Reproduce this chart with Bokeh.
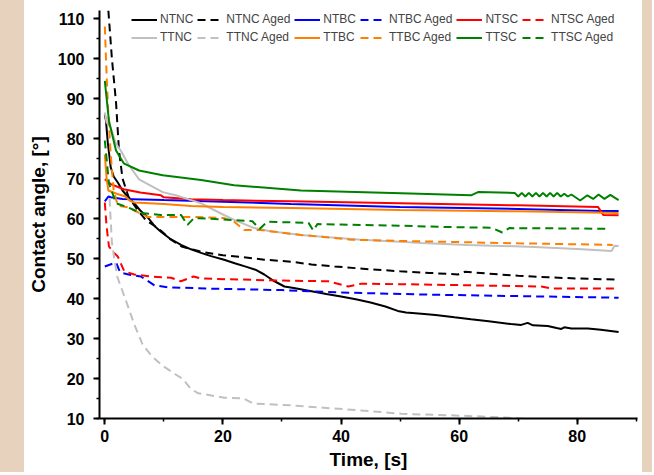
from bokeh.plotting import figure
from bokeh.models import Legend, LegendItem, SingleIntervalTicker, Range1d, Spacer
from bokeh.layouts import row
from bokeh.embed import file_html
from bokeh.resources import INLINE

# ---- data ----
ntnc_t = [0, 0.2, 0.5, 1, 1.5, 2.2, 3, 4, 5, 6, 7.2, 8.5, 9.5, 11, 12.9, 14.6, 16.3, 18, 20.2, 22, 24, 25.5, 27, 28.5,
          30.4, 32, 35, 37.5, 40, 42.5, 45, 47.5, 49.6, 51, 53.6, 56, 59.2, 62, 65, 68.8, 70.5, 71.6, 72.5, 75, 76.5,
          77.3, 77.8, 79, 81.8, 84, 87]
ntnc_v = [86, 84.4, 79, 72.8, 70.5, 69, 67, 65.2, 63.8, 62, 60.4, 58, 56.7, 55, 53.4, 52.3, 51.4, 50.6, 49.7, 48.8, 47.9,
          47.2, 46, 44.5, 43, 42.6, 41.8, 41.1, 40.5, 39.8, 39, 38, 36.9, 36.5, 36.2, 35.9, 35.3, 34.8, 34.3, 33.6, 33.4,
          33.9, 33.3, 33.1, 32.6, 32.4, 32.8, 32.5, 32.5, 32.2, 31.6]

ntnc_aged_t = [0.6, 1.2, 1.9, 2.4, 3, 4, 5.6, 7, 9, 11.2, 13, 16.3, 20, 23, 27, 31.5, 35, 38.9, 45, 50, 55, 59.8, 61, 65,
               70, 75, 80, 87]
ntnc_aged_v = [112, 100, 89, 77, 70, 65.5, 62, 59.5, 57.6, 54.7, 53, 51.7, 50.8, 50.4, 49.7, 49.2, 48.5, 48, 47.3, 46.8,
               46.4, 46.0, 46.7, 46.2, 45.7, 45.3, 45.0, 44.7]

ntbc_t = [0, 0.6, 1, 3, 10, 20, 31.5, 50, 70, 84, 87]
ntbc_v = [64.3, 65.5, 65.3, 64.9, 64.6, 64.2, 63.6, 62.9, 62.4, 61.9, 61.9]

ntbc_aged_t = [0, 1.9, 2.6, 4, 6.1, 8.4, 10.6, 17, 30, 40, 53.6, 70, 87]
ntbc_aged_v = [48, 49, 46.5, 46, 45.5, 43.3, 42.8, 42.5, 42.1, 41.5, 41.0, 40.6, 40.2]

ntsc_t = [0, 1, 3.2, 6, 9.5, 10, 14.6, 20, 31.5, 50, 70, 83.5, 84.4, 87]
ntsc_v = [69.8, 68.6, 67.3, 66.5, 65.8, 65.3, 64.8, 64.6, 64.3, 63.8, 63.3, 62.9, 60.9, 60.8]

ntsc_aged_t = [0, 0.3, 0.7, 1.5, 2.2, 3.3, 5, 7.8, 11.2, 12.9, 15, 16.3, 29, 37.8, 41.2, 43.4, 53.6, 73.9, 75.6, 86.6]
ntsc_aged_v = [64, 58, 53, 51.5, 50.5, 46.8, 46, 45.5, 45.2, 44.3, 45.5, 45, 44.5, 44.3, 43, 43.7, 43.5, 43, 42.5, 42.5]

ttnc_t = [0, 0.3, 1, 1.9, 2.7, 4, 5.8, 8.3, 9.8, 12, 14.6, 16.3, 18, 20, 22, 25.3, 28, 33.2, 38, 43.4, 50, 53.6, 61.5,
          72.7, 80, 85.8, 86.3, 87]
ttnc_v = [86.5, 84, 82.7, 78.7, 77, 73.5, 69.8, 67.8, 66.6, 65.8, 64.6, 63.8, 62.5, 61, 59.6, 57.6, 56.8, 55.9, 55.3,
          54.7, 54.2, 53.9, 53.4, 52.9, 52.4, 51.9, 53.2, 53.1]

ttnc_aged_t = [0.8, 1.2, 1.6, 2.1, 3.2, 4.1, 5, 6.4, 8, 9.8, 12, 13.2, 14.5, 15.8, 17.1, 20.2, 23.5, 25.2, 27, 31.5,
               33.2, 41.7, 50.2, 53.6, 58.6, 67, 75, 87]
ttnc_aged_v = [65, 54, 50, 45.5, 41, 37.3, 33.5, 28.5, 25.5, 23.2, 21, 19.9, 17.5, 16.3, 16, 15.2, 15, 13.7, 13.6, 13.3,
               13.1, 12.2, 11.2, 11, 10.8, 10.3, 9.6, 9.0]

ttbc_t = [0, 0.3, 0.6, 2, 3.5, 4.2, 5, 10, 14.6, 20, 31.5, 50, 70, 87]
ttbc_v = [76, 70, 67, 66.2, 65.5, 64.5, 64, 63.6, 63.1, 62.9, 62.6, 62.1, 61.8, 61.4]

ttbc_aged_t = [0, 0.3, 0.6, 1, 1.5, 2.2, 4, 5, 7.2, 14.6, 20.2, 21.9, 23.6, 26.4, 33.2, 41.7, 50, 70, 86]
ttbc_aged_v = [108, 96, 86, 76, 67, 63.2, 62.8, 62, 60.4, 60.4, 60.1, 59.2, 57.1, 57.1, 55.9, 54.7, 54.4, 53.8, 53.4]

ttsc_t = [0, 0.7, 1.9, 3.2, 5.8, 9.8, 16.3, 21.9, 33.2, 50.2, 62, 63.2, 69.4, 70.0, 70.6, 71.2, 71.8, 72.4, 73.0, 73.6,
          74.2, 74.8, 75.4, 76.0, 76.6, 77.2, 77.8, 78.4, 79.0, 80.5, 81.7, 82.7, 83.6, 84.6, 85.6, 87.0]
ttsc_v = [94.4, 84.4, 77, 73.8, 72, 70.8, 69.6, 68.3, 67, 66.3, 65.8, 66.6, 66.4, 65.5, 66.4, 65.5, 66.4, 65.5, 66.4,
          65.5, 66.4, 65.5, 66.4, 65.5, 66.4, 65.5, 66.2, 65.5, 66.0, 64.5, 65.8, 64.9, 66.0, 64.9, 65.9, 64.6]

ttsc_aged_t = [0, 0.7, 1.9, 3.9, 6.1, 9.5, 12.9, 14, 15.1, 19.7, 25, 26.2, 27.5, 34.5, 35.3, 36, 40, 50, 60, 65.5,
               67.3, 68.5, 80, 85.2]
ttsc_aged_v = [79.5, 68.8, 63.8, 62.8, 61.4, 60.9, 60.9, 58.4, 60.1, 59.8, 59.3, 57.4, 59.2, 58.9, 57.0, 58.6, 58.5,
               58.2, 57.8, 57.7, 56.5, 57.6, 57.5, 57.4]

labels = ["NTNC", "NTNC Aged", "NTBC", "NTBC Aged", "NTSC", "NTSC Aged",
          "TTNC", "TTNC Aged", "TTBC", "TTBC Aged", "TTSC", "TTSC Aged"]
xs = [ntnc_t, ntnc_aged_t, ntbc_t, ntbc_aged_t, ntsc_t, ntsc_aged_t,
      ttnc_t, ttnc_aged_t, ttbc_t, ttbc_aged_t, ttsc_t, ttsc_aged_t]
ys = [ntnc_v, ntnc_aged_v, ntbc_v, ntbc_aged_v, ntsc_v, ntsc_aged_v,
      ttnc_v, ttnc_aged_v, ttbc_v, ttbc_aged_v, ttsc_v, ttsc_aged_v]
colors = ["#000000", "#000000", "#0000ff", "#0000ff", "#ff0000", "#ff0000",
          "#c0c0c0", "#c0c0c0", "#ff8000", "#ff8000", "#008000", "#008000"]

FONT = "Liberation Sans"
H = 472

p = figure(width=618, height=H, output_backend="svg", toolbar_location=None,
           x_range=Range1d(-0.9, 90.2), y_range=Range1d(10, 112.0),
           min_border_left=74, min_border_right=5, min_border_top=10, min_border_bottom=H - 420)
p.background_fill_color = "white"
p.border_fill_color = "white"
p.outline_line_color = None
p.xgrid.visible = False
p.ygrid.visible = False

items = []
for lab, x, y, c in zip(labels, xs, ys, colors):
    dash = "8 5" if lab.endswith("Aged") else "solid"
    r = p.line(x, y, line_color=c, line_width=2, line_dash=dash)
    items.append(LegendItem(label=lab, renderers=[r]))

legend = Legend(items=items, orientation="horizontal", ncols=6, location=(32, 374),
                padding=0, spacing=4, margin=0, label_standoff=3,
                glyph_width=26, glyph_height=13, label_height=13,
                label_text_font=FONT, label_text_font_size="12px",
                background_fill_alpha=0, border_line_color=None)
p.add_layout(legend)

p.xaxis.ticker = SingleIntervalTicker(interval=20, num_minor_ticks=2)
p.yaxis.ticker = SingleIntervalTicker(interval=10, num_minor_ticks=2)
for ax in (p.xaxis[0], p.yaxis[0]):
    ax.axis_line_width = 2
    ax.axis_line_color = "black"
    ax.major_tick_line_width = 2
    ax.minor_tick_line_width = 1.5
    ax.major_tick_out = 6
    ax.major_tick_in = 0
    ax.minor_tick_out = 3
    ax.minor_tick_in = 0
    ax.major_label_text_font = FONT
    ax.major_label_text_font_style = "bold"
    ax.major_label_text_font_size = "16px"
    ax.major_label_text_color = "black"
    ax.axis_label_text_font = FONT
    ax.axis_label_text_font_style = "bold"
    ax.axis_label_text_font_size = "19px"
    ax.axis_label_text_color = "black"

p.xaxis.axis_label = "Time, [s]"
p.yaxis.axis_label = "Contact angle, [°]"
p.xaxis.major_label_standoff = 5
p.xaxis.axis_label_standoff = 4
p.yaxis.major_label_standoff = 9
p.yaxis.axis_label_standoff = 6

beige = "#e6d2bd"
left_pad = Spacer(width=24, height=H, styles={"background-color": beige})
right_pad = Spacer(width=10, height=H, styles={"background-color": beige})
layout = row(left_pad, p, right_pad)

open("out.html", "w").write(file_html(layout, INLINE))
